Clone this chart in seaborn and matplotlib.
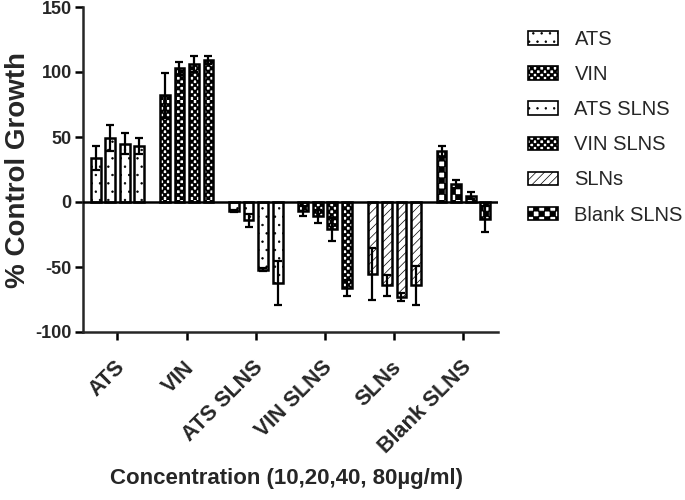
import numpy as np
import pandas as pd
import matplotlib
matplotlib.use("Agg")
import matplotlib.pyplot as plt
import matplotlib.hatch as mhatch
import matplotlib.transforms as mtransforms
from matplotlib.path import Path
from matplotlib.patches import Patch
import seaborn as sns

# data (mean % control growth, +/- error)
groups = ["ATS", "VIN", "ATS SLNS", "VIN SLNS", "SLNs", "Blank SLNS"]
concs = ["10", "20", "40", "80"]

ats = [34, 49, 45, 43]
ats_err = [9, 10, 8, 6]
vin = [82, 103, 106, 109]
vin_err = [17, 5, 6, 3]
ats_slns = [-7, -14, -52, -62]
ats_slns_err = [1, 5, 1, 17]
vin_slns = [-7, -11, -21, -66]
vin_slns_err = [4, 5, 9, 6]
slns = [-55, -64, -73, -64]
slns_err = [20, 8, 3, 15]
blank_slns = [39, 14, 5, -13]
blank_slns_err = [4, 3, 3, 10]

values = [ats, vin, ats_slns, vin_slns, slns, blank_slns]
errors = [ats_err, vin_err, ats_slns_err, vin_slns_err, slns_err, blank_slns_err]


# checkerboard hatch (takes over the 'O' character)
class CheckerHatch(mhatch.HatchPatternBase):
    def __init__(self, hatch, density):
        self.n = int(hatch.count("O") * density)
        self.cells = [(i, j) for i in range(self.n) for j in range(self.n)
                      if (i + j) % 2 == 0]
        self.num_vertices = len(self.cells) * 5

    def set_vertices_and_codes(self, vertices, codes):
        s = 1.0 / self.n
        sq = np.array([[0, 0], [s, 0], [s, s], [0, s], [0, 0]], dtype=float)
        vertices[:] = np.concatenate([sq + [i * s, j * s] for i, j in self.cells])
        cd = [Path.MOVETO, Path.LINETO, Path.LINETO, Path.LINETO, Path.CLOSEPOLY]
        codes[:] = np.tile(cd, len(self.cells))


mhatch._hatch_types = [t for t in mhatch._hatch_types
                       if t is not mhatch.LargeCircles] + [CheckerHatch]

hatches = ["..", "OOOOO", "..", "OOOOO", "////", "OOO"]

df = pd.DataFrame({
    "group": np.repeat(groups, len(concs)),
    "conc": concs * len(groups),
    "value": np.concatenate(values),
    "err": np.concatenate(errors),
})

sns.set_style("ticks")
plt.rcParams["font.family"] = ["Liberation Sans", "DejaVu Sans"]
plt.rcParams["hatch.linewidth"] = 0.5
plt.rcParams["axes.unicode_minus"] = False

fig = plt.figure(figsize=(6.85, 5.0), dpi=100)
ax = fig.add_axes([0.121, 0.336, 0.606, 0.65])

sns.barplot(data=df, x="group", y="value", hue="conc", order=groups,
            hue_order=concs, palette=["white"] * 4, edgecolor="black",
            linewidth=1.8, errorbar=None, width=0.84, gap=0.33,
            legend=False, ax=ax)

# hatch per group, error bars from the bar positions
bar_containers = list(ax.containers)
for k, cont in enumerate(bar_containers):
    sub = df[df["conc"] == concs[k]].set_index("group").loc[groups]
    xs = []
    for i, bar in enumerate(cont):
        bar.set_hatch(hatches[i])
        bar.set_zorder(2)
        xs.append(bar.get_x() + bar.get_width() / 2)
    ax.errorbar(xs, sub["value"], yerr=sub["err"], fmt="none", ecolor="black",
                elinewidth=1.6, capsize=3, capthick=1.6, zorder=3)

ax.axhline(0, color="black", lw=1.8, zorder=4)

ax.set_ylim(-100, 150)
ax.set_xlim(-0.5, 5.5)
ax.set_yticks([-100, -50, 0, 50, 100, 150])
sns.despine(ax=ax)
for side in ["left", "bottom"]:
    ax.spines[side].set_linewidth(1.8)
ax.tick_params(axis="both", width=1.8, length=6, color="black")
ax.tick_params(axis="y", labelsize=13, pad=2)
ax.tick_params(axis="x", labelsize=15.5, pad=12)
for lbl in ax.get_yticklabels():
    lbl.set_fontweight("bold")
offset = mtransforms.ScaledTranslation(-3 / 100, 0, fig.dpi_scale_trans)
for lbl in ax.get_xticklabels():
    lbl.set_fontweight("bold")
    lbl.set_rotation(45)
    lbl.set_ha("right")
    lbl.set_va("top")
    lbl.set_rotation_mode("anchor")
    lbl.set_transform(lbl.get_transform() + offset)

ax.set_ylabel("% Control Growth", fontsize=20, fontweight="bold")
ax.yaxis.set_label_coords(-0.157, 0.5)
ax.yaxis.label.set_va("center")
ax.set_xlabel("Concentration (10,20,40, 80µg/ml)", fontsize=16, fontweight="bold")
ax.xaxis.set_label_coords(0.49, -0.418)

handles = [Patch(facecolor="white", edgecolor="black", hatch=h, linewidth=1.2)
           for h in hatches]
fig.legend(handles, groups, loc="upper left", bbox_to_anchor=(0.771, 0.94),
           frameon=False, fontsize=14.5, borderpad=0, borderaxespad=0,
           handlelength=1.5, handleheight=0.65, handletextpad=0.8,
           labelspacing=0.8)

fig.savefig("out.png", dpi=100)
